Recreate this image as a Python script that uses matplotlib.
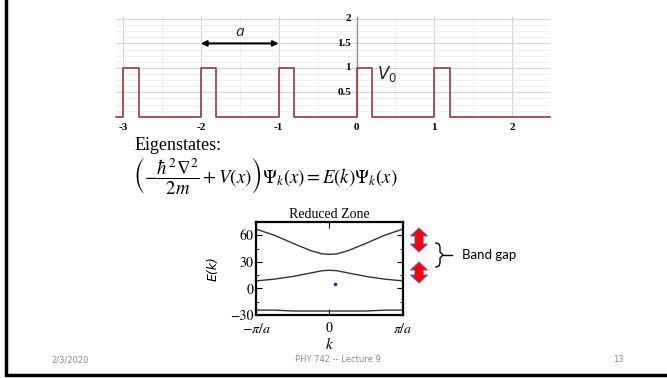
import numpy as np
import matplotlib.pyplot as plt
import matplotlib.patches as mpatches
from matplotlib.ticker import MultipleLocator

plt.rcParams['mathtext.fontset'] = 'stix'

# periodic square-well potential
well_starts = [-3, -2, -1, 0, 1]
well_width = 0.2
V0 = 1.0
pot_xticks = [-3, -2, -1, 0, 1, 2]
pot_yticks = [0.5, 1, 1.5, 2]

# reduced-zone bands (k in units of pi/a)
k_pts = [-1.0, -0.75, -0.5, -0.25, -0.1, 0.0, 0.1, 0.25, 0.5, 0.75, 1.0]
band1 = [-24.5, -24.5, -25.5, -25.5, -25.5, -25.5, -25.5, -25.5, -25.5, -24.5, -24.5]
band2 = [8.5, 10.5, 13.5, 17.5, 20.0, 20.5, 20.0, 17.5, 13.5, 10.5, 8.5]
band3 = [67.0, 60.0, 51.0, 42.5, 39.0, 38.5, 39.0, 42.5, 51.0, 60.0, 67.0]
band_yticks = [-30, 0, 30, 60]
band_xticklabels = [r'$-\pi/a$', '0', r'$\pi/a$']

fig = plt.figure(figsize=(6.67, 3.78), dpi=100)

# ---- potential plot ----
ax = fig.add_axes([0.174, 0.691, 0.651, 0.264])
xs = [-3.09]
ys = [0]
for s in well_starts:
    xs += [s, s, s + well_width, s + well_width]
    ys += [0, V0, V0, 0]
xs.append(2.49)
ys.append(0)
ax.plot(xs, ys, color='#963a3f', lw=1.2, zorder=3, clip_on=False)
ax.set_xlim(-3.09, 2.49)
ax.set_ylim(0, 2.04)
ax.xaxis.set_major_locator(MultipleLocator(1))
ax.xaxis.set_minor_locator(MultipleLocator(0.5))
ax.yaxis.set_major_locator(MultipleLocator(0.5))
ax.yaxis.set_minor_locator(MultipleLocator(0.125))
ax.grid(which='major', color='#d4d4d4', lw=0.8)
ax.grid(which='minor', color='#ececec', lw=0.6)
ax.tick_params(which='both', length=0, labelbottom=False, labelleft=False)
for sp in ax.spines.values():
    sp.set_visible(False)
ax.axvline(0, color='#8a8a8a', lw=0.9, zorder=2)
for t in pot_xticks:
    ax.text(t, -0.22, str(t), ha='center', va='center',
            fontsize=8, fontweight='bold', family='Liberation Serif', clip_on=False)
for t in pot_yticks:
    ax.text(-0.07, t, f'{t:g}', ha='right', va='center',
            fontsize=8, fontweight='bold', family='Liberation Serif')
ax.annotate('', xy=(-1, 1.5), xytext=(-2, 1.5),
            arrowprops=dict(arrowstyle='<|-|>', color='black', lw=1.5,
                            mutation_scale=8, shrinkA=0, shrinkB=0))
ax.text(-1.5, 1.72, 'a', style='italic', fontsize=11, ha='center', va='center',
        family='Open Sans', color='#222222')
ax.text(0.26, 0.88, r'$\mathit{V_0}$', fontsize=12, ha='left', va='center',
        math_fontfamily='dejavusans', color='#222222')

# ---- band structure plot ----
bx = fig.add_axes([0.384, 0.1667, 0.220, 0.246])
for b in (band1, band2, band3):
    bx.plot(k_pts, b, color='#333333', lw=1.0)
bx.plot([0.07], [5.3], marker='o', ms=1.5, color='#2020a0')
bx.set_xlim(-1, 1)
bx.set_ylim(-30, 75)
bx.set_xticks([-1, 0, 1])
bx.set_xticklabels(band_xticklabels)
bx.set_yticks(band_yticks)
bx.set_yticklabels([str(v).replace('-', '\u2212') for v in band_yticks])
bx.yaxis.set_minor_locator(MultipleLocator(15))
bx.tick_params(which='both', direction='in', top=True, right=True,
               labelsize=10, pad=2)
bx.tick_params(which='major', length=4)
bx.tick_params(which='minor', length=2.5)
bx.tick_params(axis='x', pad=5)
for lab in bx.get_xticklabels() + bx.get_yticklabels():
    lab.set_family('STIXGeneral')
for sp in bx.spines.values():
    sp.set_linewidth(1.6)
bx.set_xlabel(r'$k$', fontsize=11, labelpad=0)
bx.set_ylabel('E(k)', fontsize=9, style='italic', labelpad=7, family='DejaVu Sans')
bx.set_title('Reduced Zone', fontsize=10, family='Liberation Serif', pad=3)

# ---- slide overlay in pixel units ----
ov = fig.add_axes([0, 0, 1, 1], zorder=-1)
ov.set_xlim(0, 667)
ov.set_ylim(378, 0)
ov.axis('off')

ov.text(135, 145, 'Eigenstates:', fontsize=13, family='Liberation Serif',
        ha='left', va='center')
ov.text(133, 177,
        r'$\left(-\dfrac{\hbar^2\nabla^2}{2m}+V(x)\right)\Psi_k(x)=E(k)\Psi_k(x)$',
        fontsize=13.5, ha='left', va='center')

# red double arrows
ax2 = fig.add_axes([0, 0, 1, 1], zorder=5)
ax2.set_xlim(0, 667)
ax2.set_ylim(378, 0)
ax2.axis('off')
for y0, y1 in [(228, 252), (262, 283)]:
    yc = (y0 + y1) / 2
    for ya, yb in [(yc, y0), (yc, y1)]:
        ax2.add_patch(mpatches.FancyArrow(419, ya, 0, yb - ya, width=8,
                                          head_width=17, head_length=8,
                                          length_includes_head=True,
                                          fc='#ff0000', ec='#5b5bc8', lw=0.7))
    ax2.add_patch(mpatches.Rectangle((415, yc - 3), 8, 6, fc='#ff0000', ec='none'))

# brace and label
bx_pts = [(436, 243), (439, 244), (440, 247), (440, 252), (443, 255),
          (440, 258), (440, 263), (439, 266), (436, 267)]
ax2.plot([p[0] for p in bx_pts], [p[1] for p in bx_pts], color='black', lw=1.0)
ax2.plot([443, 452], [255, 255], color='black', lw=1.0)
ax2.text(462, 255, 'Band gap', fontsize=9.5, family='Lato', ha='left', va='center')

# footer
ax2.text(70, 360, '2/3/2020', fontsize=6, color='#8c8c8c', ha='center', va='center')
ax2.text(338, 360, 'PHY 742 -- Lecture 9', fontsize=6, color='#8c8c8c',
         ha='center', va='center')
ax2.text(618, 360, '13', fontsize=6, color='#8c8c8c', ha='center', va='center')

# slide frame
ax2.plot([5.5, 5.5, 670], [-2, 374.5, 374.5], color='black', lw=2.5,
         clip_on=False, solid_joinstyle='miter')

fig.savefig('out.png', dpi=100)
